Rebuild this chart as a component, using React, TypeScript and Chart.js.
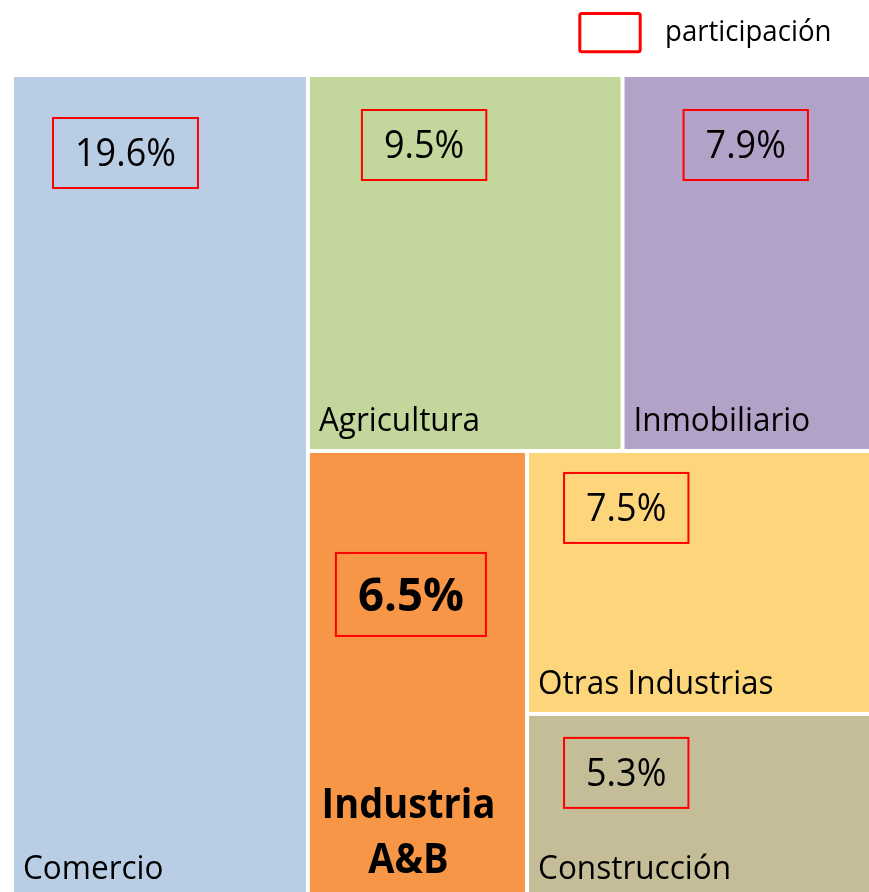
import { useEffect, useRef } from 'react';
import { Chart, registerables } from 'chart.js';

Chart.register(...registerables);

// ---- data ----
const categories = ['Comercio', 'Agricultura', 'Inmobiliario', 'Industria A&B', 'Otras Industrias', 'Construcción'];
const participation = [19.6, 9.5, 7.9, 6.5, 7.5, 5.3];
// tile sizes (share of the treemap area)
const tileSizes = [19.15, 9.29, 7.66, 7.71, 7.33, 5.16];
const legendLabel = 'participación';

// ---- styles ----
const tileColors = ['#B9CDE5', '#C3D69B', '#B3A2C7', '#F79646', '#FDD67B', '#C4BD97'];
const emphasized = [false, false, false, true, false, false];
const badgeOffsets = [[38, 40], [51, 32], [58, 32], [25, 99], [34, 19], [34, 21]];
const FONT = '"Open Sans", "Noto Sans", sans-serif';
const GAP = 4;

type Node = number | { dir: 'row' | 'col'; children: Node[] };
const layoutTree: Node = {
  dir: 'row',
  children: [
    0,
    {
      dir: 'col',
      children: [
        { dir: 'row', children: [1, 2] },
        { dir: 'row', children: [3, { dir: 'col', children: [4, 5] }] },
      ],
    },
  ],
};

type Rect = { x0: number; y0: number; x1: number; y1: number };

function weight(n: Node): number {
  return typeof n === 'number' ? tileSizes[n] : n.children.reduce((s, c) => s + weight(c), 0);
}

function layout(n: Node, x0: number, y0: number, x1: number, y1: number, out: Rect[]) {
  if (typeof n === 'number') {
    out[n] = { x0, y0, x1, y1 };
    return;
  }
  const total = weight(n);
  let pos = n.dir === 'row' ? x0 : y0;
  for (const c of n.children) {
    const f = weight(c) / total;
    if (n.dir === 'row') {
      const w = (x1 - x0) * f;
      layout(c, pos, y0, pos + w, y1, out);
      pos += w;
    } else {
      const h = (y1 - y0) * f;
      layout(c, x0, pos, x1, pos + h, out);
      pos += h;
    }
  }
}

const tiles: Rect[] = [];
layout(layoutTree, 0, 0, 1, 1, tiles);

function stretchedText(ctx: CanvasRenderingContext2D, text: string, x: number, y: number, sy: number) {
  ctx.save();
  ctx.translate(x, y);
  ctx.scale(1, sy);
  ctx.fillText(text, 0, 0);
  ctx.restore();
}

const treemapPlugin = {
  id: 'treemapTiles',
  afterDatasetsDraw(chart: any) {
    const { ctx } = chart;
    const xs = chart.scales.x;
    const ys = chart.scales.y;
    ctx.save();
    tiles.forEach((r, i) => {
      const left = xs.getPixelForValue(r.x0) + GAP / 2;
      const right = xs.getPixelForValue(r.x1) - GAP / 2;
      const top = ys.getPixelForValue(r.y0) + GAP / 2;
      const bottom = ys.getPixelForValue(r.y1) - GAP / 2;
      ctx.fillStyle = tileColors[i];
      ctx.fillRect(left, top, right - left, bottom - top);

      ctx.fillStyle = '#000';
      ctx.textBaseline = 'alphabetic';
      // category name
      if (emphasized[i]) {
        ctx.font = `bold 38px ${FONT}`;
        ctx.textAlign = 'center';
        const cx = (left + right) / 2 - 9;
        const lines = categories[i].split(' ');
        stretchedText(ctx, lines[0], cx, bottom - 79, 1.1);
        stretchedText(ctx, lines.slice(1).join(' '), cx, bottom - 24, 1.1);
      } else {
        ctx.font = `31.5px ${FONT}`;
        ctx.textAlign = 'left';
        stretchedText(ctx, categories[i], left + 9, bottom - 18, 1.06);
      }

      // participation badge
      const size = emphasized[i] ? 45.5 : 36;
      ctx.font = `${emphasized[i] ? 'bold ' : ''}${size}px ${FONT}`;
      const txt = `${participation[i].toFixed(1)}%`;
      const tw = ctx.measureText(txt).width;
      const bw = tw + 46;
      const bh = emphasized[i] ? 85 : 72;
      const bx = left + badgeOffsets[i][0];
      const by = top + badgeOffsets[i][1];
      ctx.strokeStyle = '#FF0000';
      ctx.lineWidth = 2;
      ctx.strokeRect(bx + 1, by + 1, bw - 2, bh - 2);
      ctx.textAlign = 'center';
      stretchedText(ctx, txt, bx + bw / 2, by + bh / 2 + size * 0.357 * 1.04, 1.04);
    });

    // legend
    ctx.fillStyle = '#FFFFFF';
    ctx.strokeStyle = '#FF0000';
    ctx.lineWidth = 3;
    ctx.beginPath();
    ctx.roundRect(579.8, 13.5, 60.4, 38.3, 2);
    ctx.fill();
    ctx.stroke();
    ctx.fillStyle = '#000';
    ctx.font = `27.6px ${FONT}`;
    ctx.textAlign = 'left';
    ctx.textBaseline = 'alphabetic';
    stretchedText(ctx, legendLabel, 665, 40.5, 1.06);
    ctx.restore();
  },
};

export default function App() {
  const ref = useRef<HTMLCanvasElement | null>(null);
  useEffect(() => {
    if (!ref.current) return;
    const chart = new Chart(ref.current, {
      type: 'scatter',
      data: {
        datasets: [
          {
            label: legendLabel,
            data: tiles.map((r, i) => ({ x: (r.x0 + r.x1) / 2, y: (r.y0 + r.y1) / 2, v: participation[i] })) as any,
            pointRadius: 0,
            pointHoverRadius: 0,
          },
        ],
      },
      options: {
        animation: false,
        responsive: false,
        devicePixelRatio: 1,
        layout: { padding: { top: 75, left: 12, right: 0, bottom: 0 } },
        scales: {
          x: { type: 'linear', min: 0, max: 1, display: false },
          y: { type: 'linear', min: 0, max: 1, reverse: true, display: false },
        },
        plugins: {
          legend: { display: false },
          tooltip: { enabled: false },
        },
      },
      plugins: [treemapPlugin],
    });
    return () => chart.destroy();
  }, []);
  return (
    <div style={{ position: 'fixed', left: 0, top: 0, width: 869, height: 892, overflow: 'hidden', background: '#fff' }}>
      <canvas ref={ref} width={882} height={899} style={{ display: 'block', width: 882, height: 899 }} />
    </div>
  );
}
